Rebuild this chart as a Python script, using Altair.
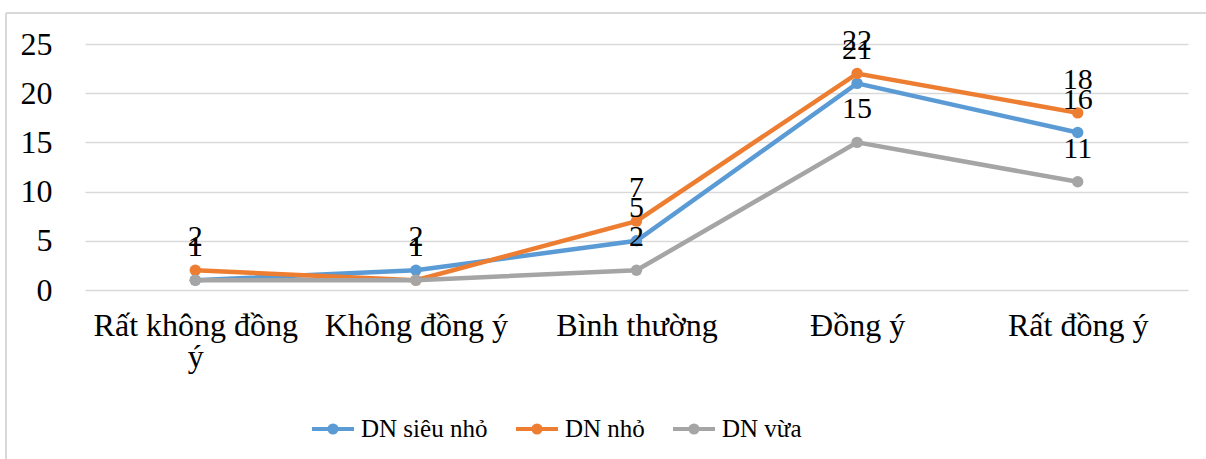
import altair as alt
import pandas as pd

# Survey responses by firm size
categories = ["Rất không đồng ý", "Không đồng ý", "Bình thường", "Đồng ý", "Rất đồng ý"]
series_names = ["DN siêu nhỏ", "DN nhỏ", "DN vừa"]
sieu_nho = [1, 2, 5, 21, 16]
nho = [2, 1, 7, 22, 18]
vua = [1, 1, 2, 15, 11]
colors = ["#5B9BD5", "#ED7D31", "#A5A5A5"]
y_ticks = [0, 5, 10, 15, 20, 25]

rows = []
for name, values in zip(series_names, [sieu_nho, nho, vua]):
    for cat, v in zip(categories, values):
        rows.append({"muc_do": cat, "loai": name, "so_luong": v})
df = pd.DataFrame(rows)

FONT = "Liberation Serif, Times New Roman, serif"
W, H = 1103, 246

x_enc = alt.X(
    "muc_do:N",
    sort=categories,
    scale=alt.Scale(type="point", padding=0.5),
    axis=alt.Axis(
        title=None,
        labelAngle=0,
        ticks=False,
        domain=False,
        labelPadding=20,
        labelBaseline="top",
        labelLineHeight=31,
        labelLimit=400,
        labelExpr="datum.value == 'Rất không đồng ý' ? ['Rất không đồng', 'ý'] : datum.value",
    ),
)
y_enc = alt.Y(
    "so_luong:Q",
    scale=alt.Scale(domain=[0, 25], nice=False),
    axis=alt.Axis(
        title=None,
        values=y_ticks,
        ticks=False,
        domain=False,
        grid=True,
        gridColor="#D9D9D9",
        gridWidth=1.5,
        labelPadding=33,
    ),
)
color_enc = alt.Color(
    "loai:N",
    scale=alt.Scale(domain=series_names, range=colors),
    legend=alt.Legend(title=None),
)

layers = []
for name in series_names:
    sub = alt.Chart(df).transform_filter(alt.datum.loai == name)
    layers.append(
        sub.mark_line(strokeWidth=4.5, point=alt.OverlayMarkDef(size=130, filled=True, opacity=1))
        .encode(x=x_enc, y=y_enc, color=color_enc)
    )

labels = alt.Chart(df).mark_text(
    font=FONT, fontSize=30, color="#000000", baseline="alphabetic", dy=-24
).encode(x=x_enc, y=y_enc, text="so_luong:Q")

border_top = alt.Chart(df).mark_rule(color="#D9D9D9", strokeWidth=2).encode(
    x=alt.value(-79), x2=alt.value(W + 40), y=alt.value(-31)
)
border_left = alt.Chart(df).mark_rule(color="#D9D9D9", strokeWidth=2).encode(
    x=alt.value(-79), y=alt.value(-31), y2=alt.value(H + 200)
)

chart = (
    alt.layer(border_top, border_left, *layers, labels)
    .properties(
        width=W,
        height=H,
        autosize=alt.AutoSizeParams(type="none"),
        padding={"left": 85, "top": 44, "right": 18, "bottom": 169},
        background="#FFFFFF",
    )
    .configure_view(stroke=None)
    .configure_axis(labelFont=FONT, labelFontSize=32, labelColor="#000000")
    .configure_legend(
        orient="none",
        direction="horizontal",
        legendX=225,
        legendY=362,
        symbolType="M-1,0H1M-0.17,0a0.17,0.17 0 1,0 0.34,0a0.17,0.17 0 1,0 -0.34,0",
        symbolSize=1764,
        symbolStrokeWidth=4,
        labelFont=FONT,
        labelFontSize=25,
        labelColor="#000000",
        labelOffset=5,
        labelLimit=400,
        columnPadding=20,
    )
)

chart.save("out.html", embed_options={"renderer": "svg", "actions": False})
